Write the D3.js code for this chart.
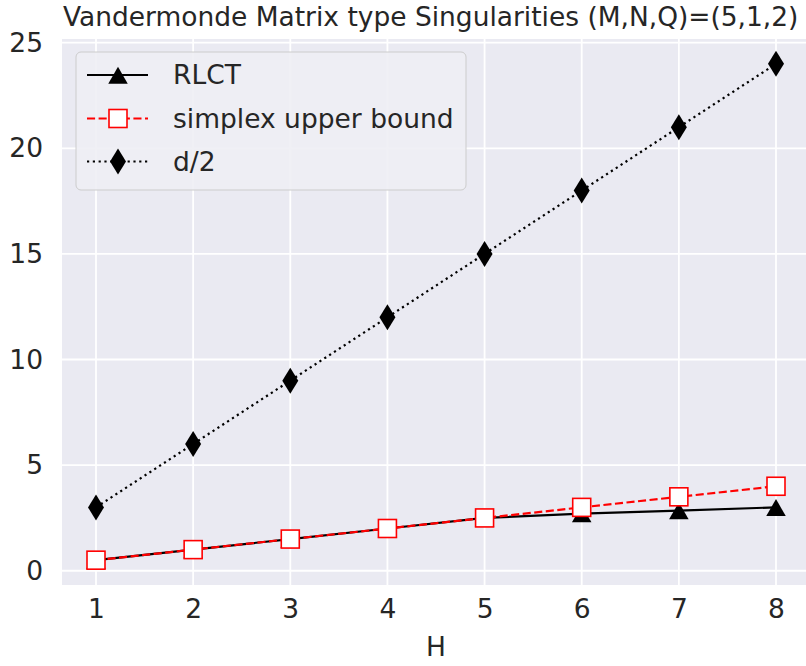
<!DOCTYPE html>
<html>
<head>
<meta charset="utf-8">
<script src="https://cdn.jsdelivr.net/npm/d3@7"></script>
<style>
  body { margin: 0; background: #fff; }
  svg { display: block; font-family: "DejaVu Sans", sans-serif; }
</style>
</head>
<body>
<div id="chart"></div>
<script>
// values
var H = [1, 2, 3, 4, 5, 6, 7, 8]
var rlct = [0.5, 1, 1.5, 2, 2.5, 2.7, 2.85, 3.0]
var simplexUpper = [0.5, 1, 1.5, 2, 2.5, 3, 3.5, 4]
var halfD = [3, 6, 9, 12, 15, 18, 21, 24]
var yTicks = [0, 5, 10, 15, 20, 25]
var seriesNames = ["RLCT", "simplex upper bound", "d/2"]

var width = 806
var height = 666
var margin = { left: 62, top: 39, right: -4, bottom: 81 }
var fs = 26.5

var svg = d3.select('#chart').append('svg')
            .attr('width', width)
            .attr('height', height)

var x = d3.scaleLinear()
          .domain([0.65, 8.35])
          .range([margin.left, width - margin.right])

var y = d3.scaleLinear()
          .domain([-0.675, 25.175])
          .range([height - margin.bottom, margin.top])

// plot background
svg.append('rect')
   .attr('x', x(0.65)).attr('y', y(25.175))
   .attr('width', x(8.35) - x(0.65))
   .attr('height', y(-0.675) - y(25.175))
   .attr('fill', '#eaeaf2')

// grid
svg.append('g').selectAll('line')
   .data(H).enter().append('line')
   .attr('x1', function(d) { return x(d) }).attr('x2', function(d) { return x(d) })
   .attr('y1', y(-0.675)).attr('y2', y(25.175))
   .attr('stroke', '#fff').attr('stroke-width', 1.8)

svg.append('g').selectAll('line')
   .data(yTicks).enter().append('line')
   .attr('y1', function(d) { return y(d) }).attr('y2', function(d) { return y(d) })
   .attr('x1', x(0.65)).attr('x2', x(8.35))
   .attr('stroke', '#fff').attr('stroke-width', 1.8)

// axes (labels only, seaborn style)
var xAxis = svg.append('g')
   .attr('transform', 'translate(0,' + (y(-0.675) + 11) + ')')
   .call(d3.axisBottom(x).tickValues(H).tickSize(0).tickFormat(d3.format('d')))
xAxis.select('.domain').remove()
xAxis.selectAll('text').attr('font-size', fs).attr('fill', '#262626')
     .attr('font-family', '"DejaVu Sans", sans-serif')

var yAxis = svg.append('g')
   .attr('transform', 'translate(' + (x(0.65) - 16) + ',0)')
   .call(d3.axisLeft(y).tickValues(yTicks).tickSize(0))
yAxis.select('.domain').remove()
yAxis.selectAll('text').attr('font-size', fs).attr('fill', '#262626')
     .attr('font-family', '"DejaVu Sans", sans-serif')

svg.append('text')
   .attr('x', x(4.5)).attr('y', 656)
   .attr('text-anchor', 'middle')
   .attr('font-size', fs).attr('fill', '#262626')
   .text('H')

// title is squeezed horizontally in the reference
var title = svg.append('g')
var titleText = title.append('text')
   .attr('x', 0).attr('y', 0)
   .attr('font-size', 27).attr('fill', '#262626')
   .text('Vandermonde Matrix type Singularities (M,N,Q)=(5,1,2)')
var sx = 736 / titleText.node().getComputedTextLength()
title.attr('transform', 'translate(63,26) scale(' + sx + ',1)')

var line = d3.line()
             .x(function(d, i) { return x(H[i]) })
             .y(function(d) { return y(d) })

var tri = d3.symbol().type(d3.symbolTriangle).size(165)
function diamondPath() { return 'M0,-13L8,0L0,13L-8,0Z' }

var lw = 2.2
var series = [
  { name: seriesNames[2], vals: halfD, color: '#000', dash: '2.2,3.6' },
  { name: seriesNames[1], vals: simplexUpper, color: 'red', dash: '8.1,3.5' },
  { name: seriesNames[0], vals: rlct, color: '#000', dash: null }
]

function drawLine(s) {
  svg.append('path')
     .datum(s.vals)
     .attr('d', line)
     .attr('fill', 'none')
     .attr('stroke', s.color)
     .attr('stroke-width', lw)
     .attr('stroke-dasharray', s.dash)
}

drawLine(series[2])
svg.append('g').selectAll('path')
   .data(rlct).enter().append('path')
   .attr('d', tri)
   .attr('transform', function(d, i) { return 'translate(' + x(H[i]) + ',' + (y(d) + 3) + ')' })
   .attr('fill', '#000')

drawLine(series[1])
svg.append('g').selectAll('rect')
   .data(simplexUpper).enter().append('rect')
   .attr('x', function(d, i) { return x(H[i]) - 9 })
   .attr('y', function(d) { return y(d) - 9 })
   .attr('width', 18).attr('height', 18)
   .attr('fill', '#fff').attr('stroke', 'red').attr('stroke-width', 1.6)

drawLine(series[0])
svg.append('g').selectAll('path')
   .data(halfD).enter().append('path')
   .attr('d', diamondPath)
   .attr('transform', function(d, i) { return 'translate(' + x(H[i]) + ',' + y(d) + ')' })
   .attr('fill', '#000')

// legend
var lg = svg.append('g')
lg.append('rect')
  .attr('x', 76).attr('y', 52).attr('width', 390).attr('height', 138)
  .attr('rx', 5)
  .attr('fill', '#eeeef4').attr('fill-opacity', 0.9)
  .attr('stroke', '#cccccc').attr('stroke-width', 1)

var rows = [75, 118.5, 161.5]
var legendItems = [series[2], series[1], series[0]]
legendItems.forEach(function(s, i) {
  var ry = rows[i]
  lg.append('line')
    .attr('x1', 87).attr('x2', 148).attr('y1', ry).attr('y2', ry)
    .attr('stroke', s.color).attr('stroke-width', lw)
    .attr('stroke-dasharray', s.dash)
  if (i === 0) {
    lg.append('path').attr('d', tri).attr('transform', 'translate(118,' + (ry + 3) + ')').attr('fill', '#000')
  } else if (i === 1) {
    lg.append('rect').attr('x', 109).attr('y', ry - 9).attr('width', 18).attr('height', 18)
      .attr('fill', '#fff').attr('stroke', 'red').attr('stroke-width', 1.6)
  } else {
    lg.append('path').attr('d', diamondPath).attr('transform', 'translate(118,' + ry + ')').attr('fill', '#000')
  }
  lg.append('text')
    .attr('x', 173).attr('y', ry).attr('dy', '0.35em')
    .attr('font-size', fs).attr('fill', '#262626')
    .text(s.name)
})
</script>
</body>
</html>
